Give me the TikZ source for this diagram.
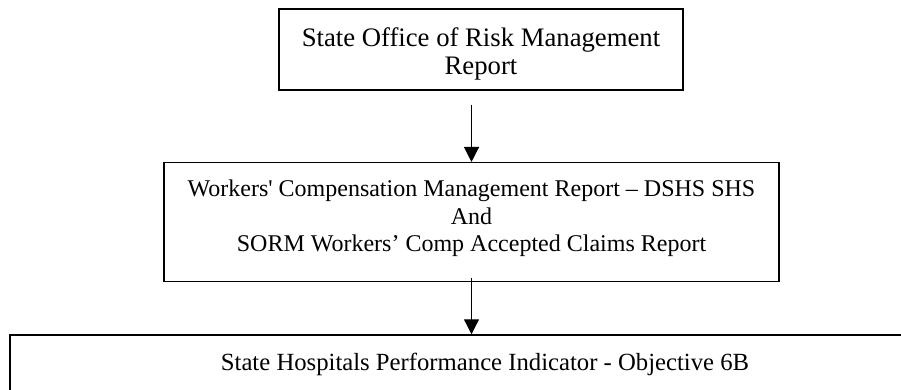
\documentclass[tikz,border=0pt]{standalone}
\usepackage{fontspec}
\setmainfont{Liberation Serif}
\usetikzlibrary{arrows.meta, positioning}

\tikzset{
  report/.style={draw, line width=1.5pt, align=center, inner sep=0pt},
  flow/.style={line width=1.3pt, -{Triangle[length=15pt,width=15pt]}}
}

\begin{document}
\begin{tikzpicture}[x=1pt,y=1pt]
			\useasboundingbox (0,0) rectangle (901,389);
			% report boxes, top to bottom (rules nudge the text off centre)
			\node[report, minimum width=404pt, minimum height=81pt,
				font=\fontsize{26.7}{28}\selectfont] (sorm) at (481,339.5)
				{\rule{0pt}{27pt}State Office of Risk Management\\Report};
			\node[report, minimum width=615pt, minimum height=119pt,
				font=\fontsize{24}{27.5}\selectfont] (wcomp) at (471.5,166.8)
				{Workers\textquotesingle{} Compensation Management Report -- DSHS SHS\\And\\SORM Workers’ Comp Accepted Claims Report\rule[-13pt]{0pt}{13pt}};
			\node[report, minimum width=950pt, minimum height=58.6pt,
				font=\fontsize{24.7}{28}\selectfont] (shpi) at (485,24.7)
				{State Hospitals Performance Indicator - Objective 6B};
			% connectors
			\coordinate (sorm-out) at ([yshift=-14pt]sorm.south);
			\draw[flow] (sorm-out -| wcomp.north) -- (wcomp.north);
			\draw[flow] ([yshift=4pt]wcomp.south) -- (wcomp.south |- shpi.north);
		\end{tikzpicture}
\end{document}
